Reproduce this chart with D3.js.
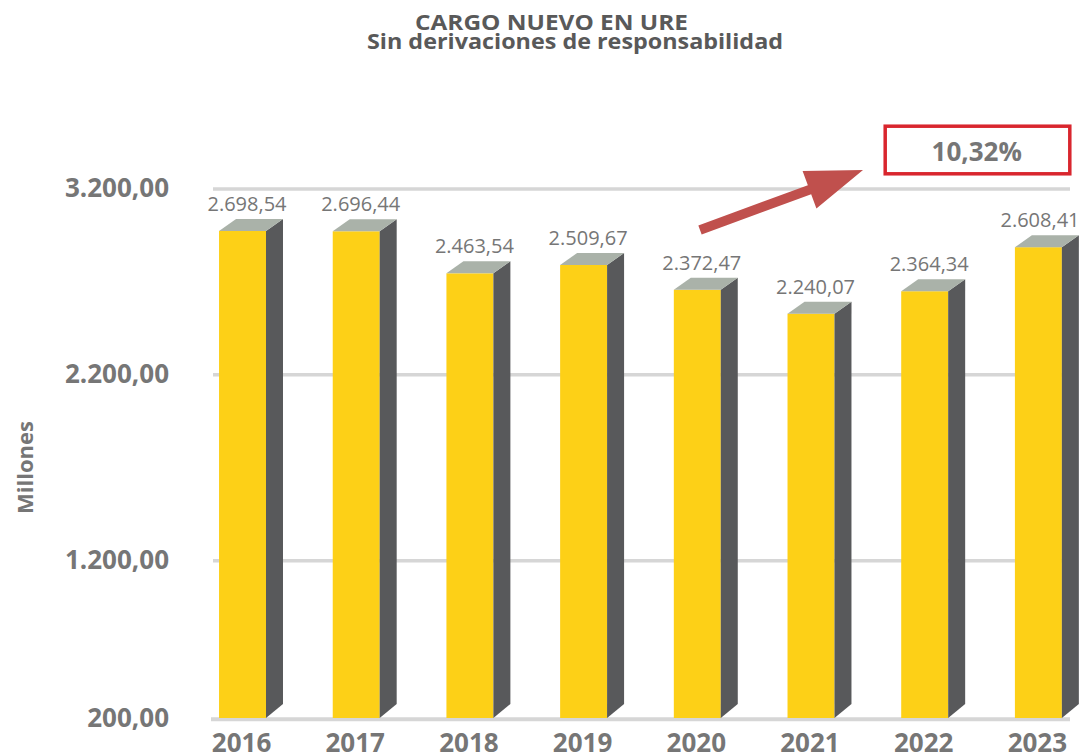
<!DOCTYPE html>
<html>
<head>
<meta charset="utf-8">
<script src="https://cdn.jsdelivr.net/npm/d3@7"></script>
<style>
  html, body { margin: 0; padding: 0; background: #ffffff; }
  svg { display: block; font-family: "Open Sans", "Segoe UI", sans-serif; }
</style>
</head>
<body>
<svg id="chart" width="1079" height="755"></svg>
<script>
// Cargo nuevo en URE, millones por año
const years = ["2016", "2017", "2018", "2019", "2020", "2021", "2022", "2023"];
const values = [2698.54, 2696.44, 2463.54, 2509.67, 2372.47, 2240.07, 2364.34, 2608.41];
const axisTicks = [200, 1200, 2200, 3200];
const variationLabel = "10,32%";
const titleLines = ["CARGO NUEVO EN URE", "Sin derivaciones de responsabilidad"];
const axisTitle = "Millones";

const W = 1079, H = 755;
const floorY = 718;
const depthX = 17, depthY = 12;

const colors = {
  front: "#FDD017",
  side: "#58595B",
  top: "#AAB2A9",
  grid: "#D6D6D6",
  text: "#767676",
  title: "#595959",
  arrow: "#C0504D",
  box: "#D9262E"
};

// Spanish number format: "." thousands, "," decimals
const esLocale = d3.formatLocale({ decimal: ",", thousands: ".", grouping: [3], currency: ["", ""] });
const fmt = esLocale.format(",.2f");

const svg = d3.select("#chart");

// Category positions
const x = d3.scaleBand()
  .domain(years)
  .range([152.3, 1128.6])
  .paddingInner(0.587)
  .paddingOuter(0.587);

// Bar heights (front face)
const yBar = d3.scaleLinear().domain([0, 3200]).range([floorY, 140.4]);

// Back-wall gridline scale
const yGrid = d3.scaleLinear().domain([200, 1200, 3200]).range([719.3, 560.7, 189]);

// Gridlines
svg.append("g")
  .selectAll("line")
  .data(axisTicks)
  .join("line")
  .attr("x1", d => d === 200 ? 211 : 213)
  .attr("x2", 1070)
  .attr("y1", d => yGrid(d))
  .attr("y2", d => yGrid(d))
  .attr("stroke", colors.grid)
  .attr("stroke-width", d => d === 200 ? 4 : 3.5);

// Y tick labels
svg.append("g")
  .selectAll("text")
  .data(axisTicks)
  .join("text")
  .attr("x", 169)
  .attr("y", d => yGrid(d) - 1.5)
  .attr("dy", "0.36em")
  .attr("text-anchor", "end")
  .attr("font-size", 26)
  .attr("font-weight", 700)
  .attr("fill", colors.text)
  .text(d => fmt(d));

// Axis title
svg.append("text")
  .attr("transform", "translate(33,467.5) rotate(-90)")
  .attr("text-anchor", "middle")
  .attr("font-size", 22)
  .attr("font-weight", 700)
  .attr("fill", colors.text)
  .text(axisTitle);

// 3D bars
const bw = x.bandwidth();
const bars = svg.append("g")
  .selectAll("g")
  .data(years.map((yr, i) => ({ yr, v: values[i] })))
  .join("g");

bars.append("rect")
  .attr("x", d => x(d.yr))
  .attr("y", d => yBar(d.v))
  .attr("width", bw)
  .attr("height", d => floorY - yBar(d.v))
  .attr("fill", colors.front);

bars.append("polygon")
  .attr("points", d => {
    const x0 = x(d.yr) + bw, t = yBar(d.v);
    return [[x0, t], [x0 + depthX, t - depthY], [x0 + depthX, floorY - depthY - 2], [x0, floorY]].join(" ");
  })
  .attr("fill", colors.side);

bars.append("polygon")
  .attr("points", d => {
    const x0 = x(d.yr), t = yBar(d.v);
    return [[x0, t], [x0 + depthX, t - depthY], [x0 + bw + depthX, t - depthY], [x0 + bw, t]].join(" ");
  })
  .attr("fill", colors.top);

// Value labels (the last one is kept inside the right edge)
bars.append("text")
  .attr("x", (d, i) => Math.min(x(d.yr) + bw / 2 + 4.5, W - 39))
  .attr("y", d => yBar(d.v) - 20)
  .attr("text-anchor", "middle")
  .attr("font-size", 20)
  .attr("fill", colors.text)
  .text(d => fmt(d.v));

// Year labels
svg.append("g")
  .selectAll("text")
  .data(years)
  .join("text")
  .attr("x", d => x(d) + bw / 2 - 1)
  .attr("y", 752)
  .attr("text-anchor", "middle")
  .attr("font-size", 26)
  .attr("font-weight", 700)
  .attr("fill", colors.text)
  .text(d => d);

// Title (two lines in one text element)
const title = svg.append("text")
  .attr("font-size", 22)
  .attr("font-weight", 700)
  .attr("fill", colors.title)
  .attr("text-anchor", "middle");
title.append("tspan").attr("x", 551.5).attr("y", 29.5)
  .attr("textLength", 273).attr("lengthAdjust", "spacingAndGlyphs")
  .text(titleLines[0]);
title.append("tspan").attr("x", 575).attr("y", 48.5)
  .attr("textLength", 416).attr("lengthAdjust", "spacingAndGlyphs")
  .text(titleLines[1]);

// Growth arrow
const tail = [700, 230], tip = [863, 170];
const headLen = 57, headHalf = 20, shaftHalf = 4.8;
const dx = tip[0] - tail[0], dy = tip[1] - tail[1];
const len = Math.hypot(dx, dy);
const ux = dx / len, uy = dy / len;
const nx = -uy, ny = ux;
const base = [tip[0] - ux * headLen, tip[1] - uy * headLen];
const arrowPts = [
  [tail[0] + nx * shaftHalf, tail[1] + ny * shaftHalf],
  [base[0] + nx * shaftHalf, base[1] + ny * shaftHalf],
  [base[0] + nx * headHalf, base[1] + ny * headHalf],
  tip,
  [base[0] - nx * headHalf, base[1] - ny * headHalf],
  [base[0] - nx * shaftHalf, base[1] - ny * shaftHalf],
  [tail[0] - nx * shaftHalf, tail[1] - ny * shaftHalf]
];
svg.append("polygon")
  .attr("points", arrowPts.map(p => p.join(",")).join(" "))
  .attr("fill", colors.arrow);

// Variation box
svg.append("rect")
  .attr("x", 885.2)
  .attr("y", 126.2)
  .attr("width", 184.6)
  .attr("height", 47.6)
  .attr("fill", "#ffffff")
  .attr("stroke", colors.box)
  .attr("stroke-width", 3.5);

svg.append("text")
  .attr("x", 976.7)
  .attr("y", 160.7)
  .attr("text-anchor", "middle")
  .attr("font-size", 26)
  .attr("font-weight", 700)
  .attr("fill", colors.text)
  .text(variationLabel);
</script>
</body>
</html>
